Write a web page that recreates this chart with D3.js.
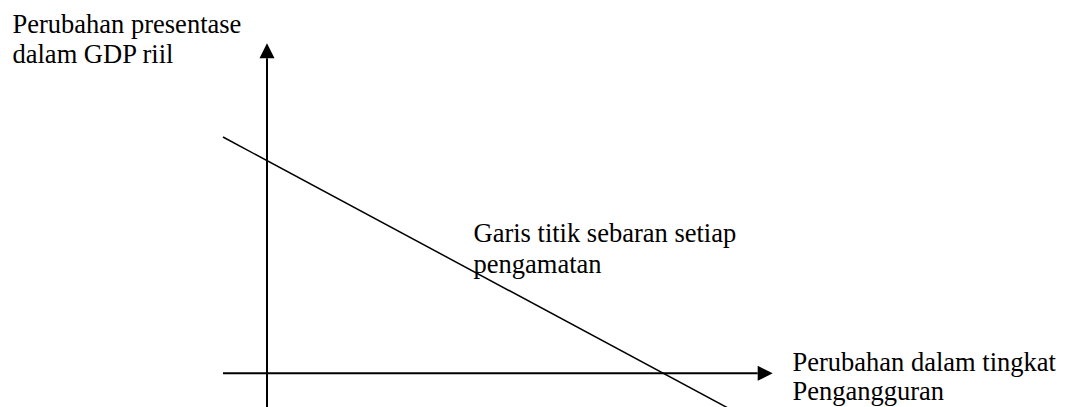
<!DOCTYPE html>
<html>
<head>
<meta charset="utf-8">
<script src="https://cdn.jsdelivr.net/npm/d3@7"></script>
<style>
  html, body { margin: 0; padding: 0; background: #fff; }
  svg { display: block; }
  text { font-family: "Liberation Serif", "Times New Roman", serif; font-size: 26.5px; fill: #000; }
</style>
</head>
<body>
<svg id="chart" width="1070" height="407"></svg>
<script>
// ---- data (conceptual diagram, data units) ----
const xAxisExtent = [-0.87, 10];          // horizontal axis: start, arrow tip
const yAxisExtent = [-1.2, 10];           // vertical axis: bottom, arrow tip
const scatterLineX = [-0.87, 9.15];       // fitted line x endpoints
const scatterLineY = [7.16, -1.08];       // fitted line y endpoints
const yAxisLabel = ["Perubahan presentase", "dalam GDP riil"];
const xAxisLabel = ["Perubahan dalam tingkat", "Pengangguran"];
const lineLabel = ["Garis titik sebaran setiap", "pengamatan"];

const svg = d3.select("#chart");
const x = d3.scaleLinear().domain([0, 10]).range([267, 772.7]);
const y = d3.scaleLinear().domain([0, 10]).range([373.3, 43.3]);

const head = 15;   // arrowhead length in px
const half = 7.5;  // arrowhead half width in px

// horizontal axis
svg.append("line")
  .attr("x1", x(xAxisExtent[0])).attr("y1", y(0))
  .attr("x2", x(xAxisExtent[1]) - head).attr("y2", y(0))
  .attr("stroke", "#000").attr("stroke-width", 2);
svg.append("path")
  .attr("d", d3.line()([
    [x(xAxisExtent[1]), y(0)],
    [x(xAxisExtent[1]) - head, y(0) - half],
    [x(xAxisExtent[1]) - head, y(0) + half]
  ]) + "Z")
  .attr("fill", "#000");

// vertical axis
svg.append("line")
  .attr("x1", x(0)).attr("y1", y(yAxisExtent[0]))
  .attr("x2", x(0)).attr("y2", y(yAxisExtent[1]) + head)
  .attr("stroke", "#000").attr("stroke-width", 2);
svg.append("path")
  .attr("d", d3.line()([
    [x(0), y(yAxisExtent[1])],
    [x(0) - half, y(yAxisExtent[1]) + head],
    [x(0) + half, y(yAxisExtent[1]) + head]
  ]) + "Z")
  .attr("fill", "#000");

// fitted line
svg.append("path")
  .datum(scatterLineX.map((v, i) => [v, scatterLineY[i]]))
  .attr("d", d3.line().x(d => x(d[0])).y(d => y(d[1])))
  .attr("fill", "none").attr("stroke", "#000").attr("stroke-width", 1.5);

// labels
function label(lines, px, py, dy) {
  const t = svg.append("text").attr("x", px).attr("y", py);
  lines.forEach((s, i) => {
    t.append("tspan").attr("x", px).attr("y", py + i * dy).text(s);
  });
}
label(yAxisLabel, 12.5, 33, 30);
label(lineLabel, 473.5, 242, 30.5);
label(xAxisLabel, 792.5, 370.5, 29);
</script>
</body>
</html>
